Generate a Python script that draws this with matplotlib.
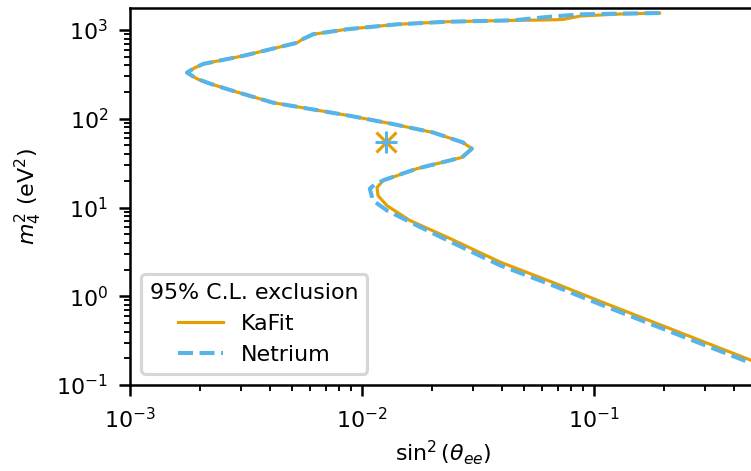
import matplotlib
matplotlib.use('Agg')
import matplotlib.pyplot as plt

# 95% C.L. exclusion contours
kafit_sin2 = [0.192, 0.129, 0.0871, 0.0734, 0.0585, 0.0448, 0.0232, 0.01416, 0.00861,
              0.00615, 0.00557, 0.00525, 0.00430, 0.00307, 0.00207, 0.00191, 0.00176,
              0.00195, 0.00221, 0.00278, 0.00413, 0.00597, 0.00887, 0.01321, 0.0202,
              0.0272, 0.0298, 0.0270, 0.01726, 0.01233, 0.01162, 0.01173, 0.01282,
              0.0161, 0.0239, 0.0394, 0.0646, 0.1062, 0.499]
kafit_m2 = [1552, 1514, 1436, 1312, 1294, 1285, 1239, 1159, 1019,
            895, 792, 719, 632, 511, 415, 377, 331,
            281, 249, 206, 152, 129, 108, 88.5, 70.2,
            54.2, 46.0, 36.7, 27.4, 20.1, 16.8, 13.6, 10.5,
            7.14, 4.49, 2.43, 1.475, 0.879, 0.181]

netrium_sin2 = [0.192, 0.129, 0.0871, 0.0626, 0.0448, 0.0232, 0.01416, 0.00861,
                0.00615, 0.00557, 0.00525, 0.00430, 0.00307, 0.00207, 0.00191, 0.00176,
                0.00195, 0.00221, 0.00278, 0.00413, 0.00597, 0.00887, 0.01321, 0.0202,
                0.0272, 0.0298, 0.0270, 0.01726, 0.0125, 0.0113, 0.01081, 0.01115,
                0.01282, 0.01726, 0.0239, 0.0394, 0.0646, 0.1062, 0.499]
netrium_m2 = [1552, 1530, 1500, 1400, 1285, 1239, 1159, 1019,
              895, 792, 719, 632, 511, 415, 377, 331,
              281, 249, 206, 152, 129, 108, 88.5, 70.2,
              54.2, 46.0, 36.7, 27.4, 20.5, 18.0, 16.3, 12.0,
              9.25, 6.28, 4.15, 2.23, 1.365, 0.813, 0.168]

# best fit point
best_sin2 = [0.01268]
best_m2 = [54.2]

orange = '#E69F00'
blue = '#56B4E9'

plt.rcParams['font.size'] = 7.1

fig = plt.figure(figsize=(751 / 225, 471 / 225), dpi=225)
ax = fig.add_axes([130 / 751, 86 / 471, 626 / 751, 377 / 471])

ax.plot(kafit_sin2, kafit_m2, color=orange, lw=1.0, label='KaFit')
ax.plot(netrium_sin2, netrium_m2, color=blue, lw=1.3, ls='--', label='Netrium')
ax.plot(best_sin2, best_m2, marker='x', color=orange, ms=6.5, mew=1.0, ls='none')
ax.plot(best_sin2, best_m2, marker='+', color=blue, ms=7, mew=1.0, ls='none')

ax.set_xscale('log')
ax.set_yscale('log')
ax.set_xlim(1e-3, 0.5)
ax.set_ylim(0.1, 1770)
ax.set_xlabel(r'$\sin^2(\theta_{ee})$', labelpad=2)
ax.set_ylabel(r'$m_4^2$ (eV$^2$)')

ax.legend(title='95% C.L. exclusion', loc='lower left')

fig.savefig('out.png', dpi=225)
